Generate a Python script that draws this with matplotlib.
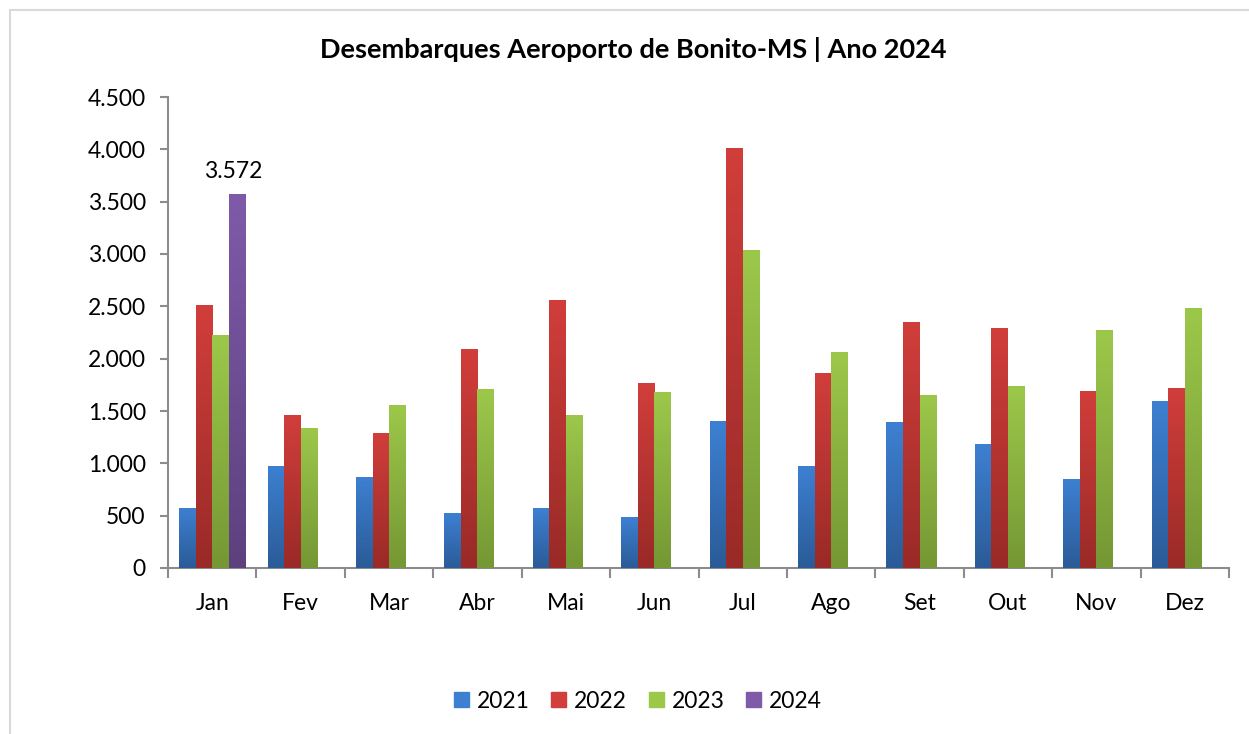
import numpy as np
import matplotlib.pyplot as plt
import matplotlib as mpl
from matplotlib.colors import LinearSegmentedColormap
from matplotlib.patches import Rectangle

mpl.rcParams["font.family"] = ["Lato", "DejaVu Sans"]

### Data
months = ["Jan", "Fev", "Mar", "Abr", "Mai", "Jun", "Jul", "Ago", "Set", "Out", "Nov", "Dez"]
years = ["2021", "2022", "2023", "2024"]
d2021 = [575, 975, 870, 525, 573, 487, 1404, 974, 1394, 1184, 850, 1595]
d2022 = [2512, 1461, 1289, 2092, 2560, 1767, 4011, 1863, 2350, 2292, 1690, 1719]
d2023 = [2225, 1340, 1557, 1710, 1461, 1681, 3037, 2063, 1652, 1738, 2273, 2483]
d2024 = [3572, np.nan, np.nan, np.nan, np.nan, np.nan, np.nan, np.nan, np.nan, np.nan, np.nan, np.nan]
yticks = [0, 500, 1000, 1500, 2000, 2500, 3000, 3500, 4000, 4500]

# (top colour, bottom colour) for the Excel-like gradient
COLORS = [
    ("#3d80d2", "#2b5b97"),
    ("#d13e3b", "#992a27"),
    ("#9cc84a", "#759734"),
    ("#7f5aa9", "#5c417e"),
]
BAR_W = 0.187
FS = 16.5

fig = plt.figure(figsize=(12.49, 7.34), dpi=100)
# light frame around the chart
fig.patches.append(Rectangle((10 / 1249, -0.1), 1.2, (734 - 10) / 734 + 0.1,
                             transform=fig.transFigure, fill=False,
                             edgecolor="#d9d9d9", linewidth=1.5))

ax = fig.add_axes([168 / 1249, 1 - 568 / 734, (1229 - 168) / 1249, (568 - 97) / 734])

x = np.arange(len(months))
series = [d2021, d2022, d2023, d2024]
grad = np.linspace(1, 0, 256).reshape(-1, 1)
for i, (vals, year) in enumerate(zip(series, years)):
    offs = (i - 1.5) * BAR_W
    bars = ax.bar(x + offs, vals, width=BAR_W, color=COLORS[i][0], label=year,
                  linewidth=0, zorder=2)
    cmap = LinearSegmentedColormap.from_list(year, [COLORS[i][1], COLORS[i][0]])
    for b in bars:
        h = b.get_height()
        if not np.isfinite(h) or h <= 0:
            continue
        x0 = b.get_x()
        im = ax.imshow(grad, cmap=cmap, aspect="auto", zorder=3,
                       extent=(x0, x0 + BAR_W, 0, h), interpolation="bicubic")
        im.set_clip_path(b)

ax.annotate("3.572", (0 + 1.5 * BAR_W, d2024[0]), xytext=(-3, 9),
            textcoords="offset points", ha="center", va="bottom", fontsize=FS)

ax.set_xlim(-0.5, 11.5)
ax.set_ylim(0, 4500)
ax.set_yticks(yticks)
ax.set_yticklabels([f"{v:,}".replace(",", ".") for v in yticks])
ax.set_xticks(np.arange(-0.5, 12, 1))
ax.set_xticklabels([])
ax.set_xticks(x, minor=True)
ax.set_xticklabels(months, minor=True)
ax.tick_params(axis="x", which="minor", length=0, pad=18, labelsize=FS)
ax.tick_params(axis="x", which="major", length=7, width=1.5, color="#8c8c8c")
ax.tick_params(axis="y", length=6, width=1.5, color="#8c8c8c", labelsize=FS, pad=10)

for s in ["top", "right"]:
    ax.spines[s].set_visible(False)
for s in ["left", "bottom"]:
    ax.spines[s].set_color("#8c8c8c")
    ax.spines[s].set_linewidth(1.5)

fig.text(633 / 1249, 1 - 50 / 734, "Desembarques Aeroporto de Bonito-MS | Ano 2024",
         ha="center", va="center", fontsize=19.5, fontweight="bold")

handles = [Rectangle((0, 0), 1, 1, color=c[0]) for c in COLORS]
fig.legend(handles, years, loc="center", bbox_to_anchor=(638 / 1249, 1 - 701 / 734),
           ncol=4, frameon=False, fontsize=FS, handlelength=0.65, handleheight=0.65,
           handletextpad=0.35, columnspacing=0.95)

fig.savefig("out.png", dpi=100)
